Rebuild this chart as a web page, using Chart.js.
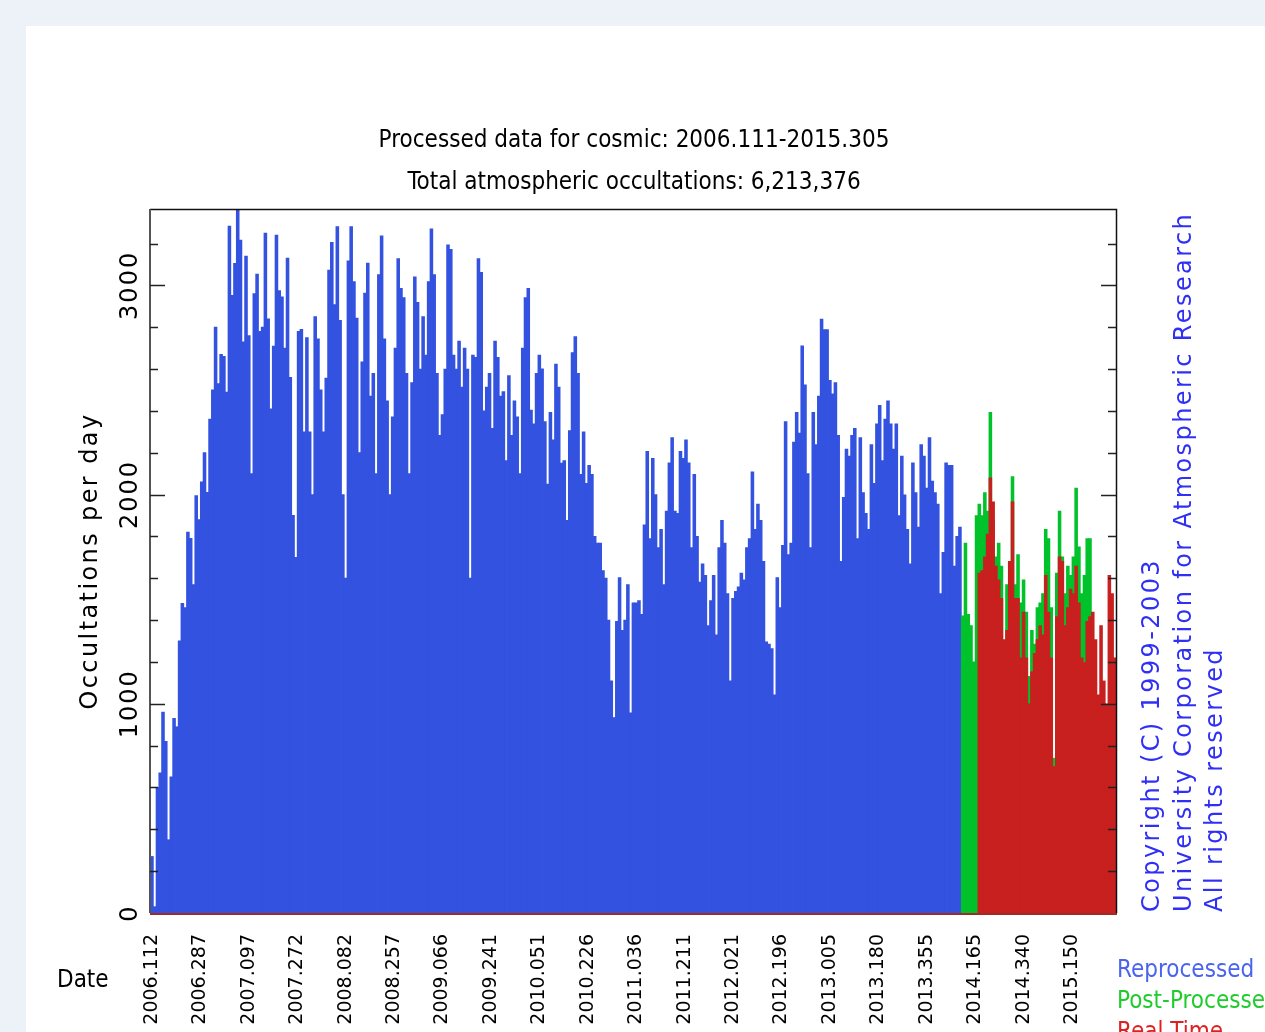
<!DOCTYPE html>
<html>
<head>
<meta charset="utf-8">
<title>COSMIC processed occultations</title>
<script src="https://cdn.jsdelivr.net/npm/chart.js@4.4.1/dist/chart.umd.min.js"></script>
<style>
  html, body { margin: 0; padding: 0; background: #edf2f9; overflow: hidden; }
  #wrap { position: absolute; left: 0; top: 0; width: 1265px; height: 1032px; }
</style>
</head>
<body>
<div id="wrap"><canvas id="chart" width="1265" height="1032"></canvas></div>
<script>
// Daily occultation counts, sampled every 10 days starting 2006.112 (day offset 0).
const BIN_DAYS = 10;

// Reprocessed counts, bins 0 .. 292
const reprocessedStartBin = 0;
const reprocessed = [
  270, 30, 600, 670, 960, 820, 350, 650, 930, 890,
  1300, 1480, 1460, 1820, 1790, 1570, 1995, 1880, 2060, 2200,
  2010, 2360, 2500, 2800, 2530, 2670, 2660, 2490, 3283, 2952,
  3105, 3360, 3216, 2730, 3140, 2760, 2100, 2960, 3053, 2780,
  2800, 3250, 2840, 2410, 2710, 3240, 2975, 2945, 2700, 3130,
  2560, 1900, 1700, 2780, 2790, 2300, 2750, 2300,
  2000, 2850, 2744, 2500, 2300, 2557, 3073, 3205, 2908, 3281,
  2832, 2000, 1600, 3117, 3281, 3018, 2843, 2200, 2634, 2963,
  3106, 2470, 2579, 2100, 3051, 3237, 2744, 2448, 2000, 2371,
  2700, 3128, 2985, 2941, 2579, 2100, 2535, 3040, 2919, 2600,
  2850, 2667, 3018, 3270, 3051, 2579, 2283, 2382, 2600, 3194,
  3172, 2667, 2600, 2733, 2513, 2700, 2600, 1600,
  2667, 2656, 3128, 3062, 2400, 2513, 2579, 2316, 2733, 2656,
  2470, 2492, 2162, 2568, 2283, 2448, 2371, 2100, 2700, 2941,
  2985, 2404, 2338, 2579, 2667, 2601, 2349, 2050, 2393, 2261,
  2623, 2513, 2150, 2162, 1877, 2305, 2678, 2755, 2579, 2097,
  2300, 2053, 2140, 2097, 1800, 1768, 1768, 1636, 1600, 1400,
  1109, 934, 1394, 1603, 1351, 1400, 1570,
  956, 1482, 1482, 1493, 1427, 1855, 2206, 1789, 2173, 2000,
  1746, 1833, 1570, 1921, 2151, 2272, 1921, 1910, 2206, 2173,
  2261, 2151, 1746, 2097, 1800, 1581, 1669, 1614, 1373, 1493,
  1614, 1329, 1746, 1877, 1768, 1526, 1109, 1504, 1537, 1559,
  1625, 1592, 1746, 1789, 2108, 1833, 1954, 1877, 1680, 1296,
  1285, 1263, 1043, 1603, 1460, 1757, 2349, 1713,
  1768, 2250, 2393, 2294, 2711, 2524, 2100, 1746, 2393, 2239,
  2470, 2838, 2788, 2788, 2546, 2481, 2535, 2283, 1680, 1987,
  2217, 2184, 2283, 2316, 1789, 2272, 2009, 1910, 1833, 2239,
  2053, 2338, 2426, 2162, 2360, 2448, 2338, 2217, 2338, 1899,
  2184, 1998, 1833, 1669, 2151, 2009, 1844, 2239, 2184, 2031,
  2272, 2064, 2009, 1954, 1526, 1724, 2151, 2140, 2140, 1658,
  1800, 1844
];

// Post-processed counts, bins 293 .. 339
const postProcessedStartBin = 293;
const postProcessed = [
  1420, 1768, 1427, 1373, 1200, 1899, 1954, 1899, 2009, 1921,
  2393, 1877, 1702, 1768, 1658, 1300, 1570, 1680, 2086, 1570,
  1713, 1482, 1592, 1438, 1131, 1351, 1285, 1460, 1482, 1526,
  1833, 1789, 1460, 740, 1625, 1921, 1702, 1526, 1658, 1614,
  1702, 2031, 1750, 1526, 1614, 1789, 1789
];

// Real-time counts, bins 299 .. 348
const realTimeStartBin = 299;
const realTime = [
  1625, 1636, 1702, 1811, 2080, 1965, 1658, 1592, 1504, 1307,
  1351, 1680, 1965, 1504, 1504, 1219, 1438, 1219, 1000, 1153,
  1241, 1307, 1373, 1329, 1614, 1438, 1219, 700, 1416, 1702,
  1680, 1373, 1460, 1548, 1526, 1658, 1482, 1219, 1197, 1394,
  1416, 1438, 1307, 1043, 1373, 1109, 1000, 1614, 1526, 1219
];

// Date axis: a label every 175 days (year.dayOfYear)
const tickDays = [0, 175, 350, 525, 700, 875, 1050, 1225, 1400, 1575,
                  1750, 1925, 2100, 2275, 2450, 2625, 2800, 2975, 3150, 3325];
const tickLabels = ['2006.112', '2006.287', '2007.097', '2007.272', '2008.082',
                    '2008.257', '2009.066', '2009.241', '2010.051', '2010.226',
                    '2011.036', '2011.211', '2012.021', '2012.196', '2013.005',
                    '2013.180', '2013.355', '2014.165', '2014.340', '2015.150'];

// Count axis: tick marks every 200, labelled every 1000
const countTicks = [0, 200, 400, 600, 800, 1000, 1200, 1400, 1600, 1800,
                    2000, 2200, 2400, 2600, 2800, 3000, 3200];
const countLabelStep = 1000;

const seriesNames = ['Reprocessed', 'Post-Processed', 'Real Time'];
const seriesColors = ['#3352e0', '#00c22a', '#c81f1f'];
const textColors = ['#4a64ee', '#1fcc2c', '#dd2020'];

function toPoints(values, startBin) {
  return values.map((v, i) => ({ x: (startBin + i) * BIN_DAYS, y: v }));
}

const SANS = '"DejaVu Sans", "Verdana", sans-serif';
const COND = '"DejaVu Sans Condensed", "DejaVu Sans", sans-serif';

function rotatedText(ctx, text, x, y, align, font, color, spacing) {
  ctx.save();
  ctx.translate(x, y);
  ctx.rotate(-Math.PI / 2);
  ctx.font = font;
  ctx.fillStyle = color;
  ctx.textAlign = align;
  ctx.textBaseline = 'alphabetic';
  ctx.letterSpacing = spacing || '0px';
  ctx.fillText(text, 0, 0);
  ctx.restore();
}

function plainText(ctx, text, x, y, align, font, color) {
  ctx.save();
  ctx.font = font;
  ctx.fontStretch = 'condensed';
  ctx.fillStyle = color;
  ctx.textAlign = align;
  ctx.textBaseline = 'alphabetic';
  ctx.letterSpacing = '0px';
  ctx.fillText(text, x, y);
  ctx.restore();
}

// Page background and white panel
const backdrop = {
  id: 'backdrop',
  beforeDraw(chart) {
    const ctx = chart.ctx;
    ctx.save();
    ctx.fillStyle = '#edf2f9';
    ctx.fillRect(0, 0, chart.width, chart.height);
    ctx.fillStyle = '#ffffff';
    ctx.fillRect(26, 26, chart.width - 26, chart.height - 26);
    ctx.restore();
  }
};

// Frame, inward tick marks, and the surrounding text
const decorations = {
  id: 'decorations',
  afterDatasetsDraw(chart) {
    const ctx = chart.ctx;
    const a = chart.chartArea;
    const ys = chart.scales.y;
    ctx.save();
    // frame
    ctx.lineWidth = 1.5;
    ctx.strokeStyle = '#111';
    ctx.beginPath();
    ctx.moveTo(a.left, a.top + 0.5); ctx.lineTo(a.right + 0.5, a.top + 0.5);
    ctx.lineTo(a.right + 0.5, a.bottom);
    ctx.stroke();
    ctx.strokeStyle = '#555';
    ctx.lineWidth = 2;
    ctx.beginPath();
    ctx.moveTo(a.left, a.top); ctx.lineTo(a.left, a.bottom);
    ctx.stroke();
    ctx.strokeStyle = '#a02a28';
    ctx.lineWidth = 2;
    ctx.beginPath();
    ctx.moveTo(a.left, a.bottom + 1); ctx.lineTo(a.right + 1, a.bottom + 1);
    ctx.stroke();
    // inward tick marks on both sides
    ctx.strokeStyle = '#222';
    ctx.lineWidth = 1.5;
    ys.ticks.forEach(t => {
      if (t.value === 0) return;
      const y = Math.round(ys.getPixelForValue(t.value)) + 0.5;
      const len = t.value % countLabelStep === 0 ? 15 : 8;
      ctx.beginPath();
      ctx.moveTo(a.left, y); ctx.lineTo(a.left + len, y);
      ctx.moveTo(a.right - len, y); ctx.lineTo(a.right, y);
      ctx.stroke();
    });
    ctx.restore();

    // count labels
    ys.ticks.forEach(t => {
      if (t.value % countLabelStep !== 0) return;
      rotatedText(ctx, String(t.value), 137, ys.getPixelForValue(t.value), 'center',
        '24px ' + SANS, '#000', '2px');
    });
    rotatedText(ctx, 'Occultations per day', 97, 561, 'center', '24px ' + SANS, '#000', '2.4px');

    // titles
    plainText(ctx, 'Processed data for cosmic: 2006.111-2015.305', 634, 147, 'center', '24px ' + COND, '#000');
    plainText(ctx, 'Total atmospheric occultations: 6,213,376', 634, 189, 'center', '24px ' + COND, '#000');
    plainText(ctx, 'Date', 57, 987, 'left', '24px ' + COND, '#000');

    // series key
    seriesNames.forEach((name, i) => {
      plainText(ctx, name, 1117, 977 + i * 31, 'left', '24px ' + COND, textColors[i]);
    });

    // notice along the right edge
    const blue = '#2f2ff5';
    rotatedText(ctx, 'Copyright (C) 1999-2003', 1159, 912, 'left', '24px ' + SANS, blue, '2.4px');
    rotatedText(ctx, 'University Corporation for Atmospheric Research', 1191, 912, 'left', '24px ' + SANS, blue, '2.4px');
    rotatedText(ctx, 'All rights reserved', 1222, 912, 'left', '24px ' + SANS, blue, '2.4px');
  }
};

new Chart(document.getElementById('chart'), {
  type: 'bar',
  data: {
    datasets: [
      { label: seriesNames[2], data: toPoints(realTime, realTimeStartBin), backgroundColor: seriesColors[2] },
      { label: seriesNames[1], data: toPoints(postProcessed, postProcessedStartBin), backgroundColor: seriesColors[1] },
      { label: seriesNames[0], data: toPoints(reprocessed, reprocessedStartBin), backgroundColor: seriesColors[0] }
    ]
  },
  options: {
    responsive: false,
    animation: false,
    devicePixelRatio: 1,
    layout: { padding: { left: 0, top: 209, right: 149, bottom: 0 } },
    datasets: {
      bar: { grouped: false, barPercentage: 1, categoryPercentage: 1, borderWidth: 0, inflateAmount: 0.4 }
    },
    plugins: {
      legend: { display: false },
      tooltip: { enabled: false },
      title: { display: false }
    },
    scales: {
      x: {
        type: 'linear',
        min: -7,
        max: 3484,
        offset: false,
        grid: { display: false, drawTicks: false },
        border: { display: false },
        afterBuildTicks(scale) { scale.ticks = tickDays.map(v => ({ value: v })); },
        afterFit(scale) { scale.height = 119; },
        ticks: {
          autoSkip: false,
          minRotation: 90,
          maxRotation: 90,
          padding: 21,
          color: '#000',
          font: { family: 'DejaVu Sans', size: 19 },
          callback(value, index) { return tickLabels[index]; }
        }
      },
      y: {
        min: 0,
        max: 3365,
        grid: { display: false, drawTicks: false },
        border: { display: false },
        afterBuildTicks(scale) { scale.ticks = countTicks.map(v => ({ value: v })); },
        afterFit(scale) { scale.width = 150; },
        ticks: { display: false }
      }
    }
  },
  plugins: [backdrop, decorations]
});
</script>
</body>
</html>
